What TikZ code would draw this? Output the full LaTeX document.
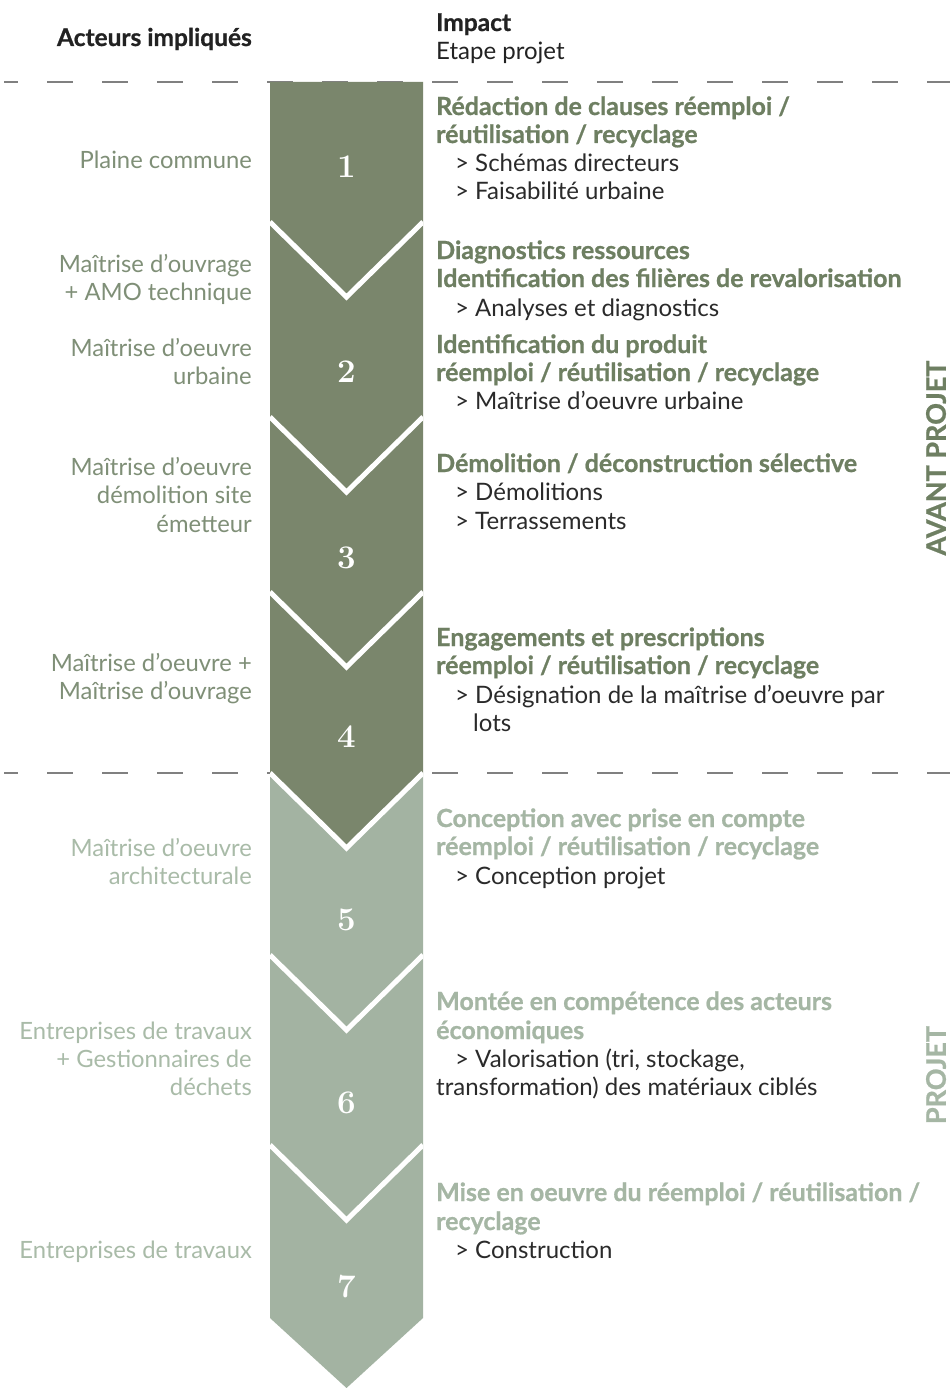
\documentclass[tikz,border=0pt]{standalone}
\usepackage{fontspec}
\setmainfont{Lato}[BoldFeatures={FakeBold=0.8}]
\definecolor{bandD}{HTML}{7A866C}
\definecolor{bandL}{HTML}{A3B3A2}
\definecolor{ttlD}{HTML}{6E7F62}
\definecolor{ttlL}{HTML}{A5B6A4}
\definecolor{actD}{HTML}{7F8F77}
\definecolor{actL}{HTML}{A9BBA8}
\definecolor{itm}{HTML}{2A2A2A}
\definecolor{hd}{HTML}{222222}
\definecolor{sepc}{HTML}{808080}
\tikzset{
  sepline/.style={draw=sepc, line width=1.3pt, dash pattern=on 26pt off 29pt, dash phase=12pt},
  vline/.style={draw=white, line width=5pt, line join=miter},
  numtxt/.style={text=white, font=\fontspec{Latin Modern Roman}\bfseries\fontsize{33}{33}\selectfont, inner sep=0pt},
  hdtxt/.style={text=hd, inner sep=0pt, font=\bfseries\fontsize{24.5}{26}\selectfont},
  hdreg/.style={text=hd, inner sep=0pt, font=\fontsize{24}{26}\selectfont, anchor=base west},
  actd/.style={text=actD, inner sep=0pt, anchor=base east, font=\fontsize{23.8}{26}\selectfont},
  actl/.style={text=actL, inner sep=0pt, anchor=base east, font=\fontsize{23.8}{26}\selectfont},
  ttld/.style={text=ttlD, inner sep=0pt, anchor=base west, font=\bfseries\fontsize{25}{26}\selectfont},
  ttll/.style={text=ttlL, inner sep=0pt, anchor=base west, font=\bfseries\fontsize{25}{26}\selectfont},
  item/.style={text=itm, inner sep=0pt, anchor=base west, font=\fontsize{24}{26}\selectfont},
  sidetxt/.style={inner sep=0pt, rotate=90, font=\bfseries\fontsize{27}{27}\selectfont}
}
\begin{document}
\begin{tikzpicture}[x=1pt,y=-1pt]
\useasboundingbox (0,0) rectangle (950,1388);
\fill[white] (0,0) rectangle (950,1388);
% separators
\draw[sepline] (4,82) -- (950,82);
\draw[sepline] (4,773) -- (950,773);
% band
\fill[bandD] (270,82) -- (423,82) -- (423,773) -- (346.5,848) -- (270,773) -- cycle;
\fill[bandL] (270,773) -- (346.5,848) -- (423,773) -- (423,1318) -- (346.5,1388) -- (270,1318) -- cycle;
\begin{scope}
\clip (270,82) rectangle (423,1388);
\foreach \s in {222,417,592,773,955,1145}
  \draw[vline] (270,\s) -- (346.5,\s+75) -- (423,\s);
\end{scope}
% numbers
\node[numtxt] (n1) at (346.5,167) {1};
\node[numtxt] (n2) at (346.5,372) {2};
\node[numtxt] (n3) at (346.5,558) {3};
\node[numtxt] (n4) at (346.5,737) {4};
\node[numtxt] (n5) at (346.5,920) {5};
\node[numtxt] (n6) at (346.5,1103) {6};
\node[numtxt] (n7) at (346.5,1287) {7};
% headers
\node[hdtxt, anchor=base east] (hA) at (252,46) {Acteurs impliqués};
\node[hdtxt, anchor=base west] (hI) at (436,31) {Impact};
\node[hdreg] (hE) at (436,60) {Etape projet};
% actors
\node[actd] (a1) at (252,169) {Plaine commune};
\node[actd] (a2a) at (252,272) {Maîtrise d’ouvrage};
\node[actd] (a2b) at (252,300) {+ AMO technique};
\node[actd] (a3a) at (252,356) {Maîtrise d’oeuvre};
\node[actd] (a3b) at (252,384) {urbaine};
\node[actd] (a4a) at (252,475) {Maîtrise d’oeuvre};
\node[actd] (a4b) at (252,503) {démolition site};
\node[actd] (a4c) at (252,532) {émetteur};
\node[actd] (a5a) at (252,671) {Maîtrise d’oeuvre +};
\node[actd] (a5b) at (252,699) {Maîtrise d’ouvrage};
\node[actl] (a6a) at (252,856) {Maîtrise d’oeuvre};
\node[actl] (a6b) at (252,884) {architecturale};
\node[actl] (a7a) at (252,1039) {Entreprises de travaux};
\node[actl] (a7b) at (252,1067) {+ Gestionnaires de};
\node[actl] (a7c) at (252,1095) {déchets};
\node[actl] (a8a) at (252,1258) {Entreprises de travaux};
% impacts
\node[ttld] (t1a) at (436,115) {Rédaction de clauses réemploi /};
\node[ttld] (t1b) at (436,143) {réutilisation / recyclage};
\node[item] (i1a) at (455,172) {> Schémas directeurs};
\node[item] (i1b) at (455,200) {> Faisabilité urbaine};
\node[ttld] (t2a) at (436,259) {Diagnostics ressources};
\node[ttld] (t2b) at (436,287) {Identification des filières de revalorisation};
\node[item] (i2a) at (455,316) {> Analyses et diagnostics};
\node[ttld] (t3a) at (436,353) {Identification du produit};
\node[ttld] (t3b) at (436,381) {réemploi / réutilisation / recyclage};
\node[item] (i3a) at (455,409) {> Maîtrise d’oeuvre urbaine};
\node[ttld] (t4a) at (436,472) {Démolition / déconstruction sélective};
\node[item] (i4a) at (455,500) {> Démolitions};
\node[item] (i4b) at (455,529) {> Terrassements};
\node[ttld] (t5a) at (436,646) {Engagements et prescriptions};
\node[ttld] (t5b) at (436,674) {réemploi / réutilisation / recyclage};
\node[item] (i5a) at (455,703) {> Désignation de la maîtrise d’oeuvre par};
\node[item] (i5b) at (473,731) {lots};
\node[ttll] (t6a) at (436,827) {Conception avec prise en compte};
\node[ttll] (t6b) at (436,855) {réemploi / réutilisation / recyclage};
\node[item] (i6a) at (455,884) {> Conception projet};
\node[ttll] (t7a) at (436,1010) {Montée en compétence des acteurs};
\node[ttll] (t7b) at (436,1039) {économiques};
\node[item] (i7a) at (455,1067) {> Valorisation (tri, stockage,};
\node[item] (i7b) at (436,1095) {transformation) des matériaux ciblés};
\node[ttll] (t8a) at (436,1201) {Mise en oeuvre du réemploi / réutilisation /};
\node[ttll] (t8b) at (436,1230) {recyclage};
\node[item] (i8a) at (455,1258) {> Construction};
% phases
\node[sidetxt, text=ttlD] (pAv) at (936,458) {AVANT PROJET};
\node[sidetxt, text=ttlL] (pPr) at (936,1075) {PROJET};
\end{tikzpicture}
\end{document}
